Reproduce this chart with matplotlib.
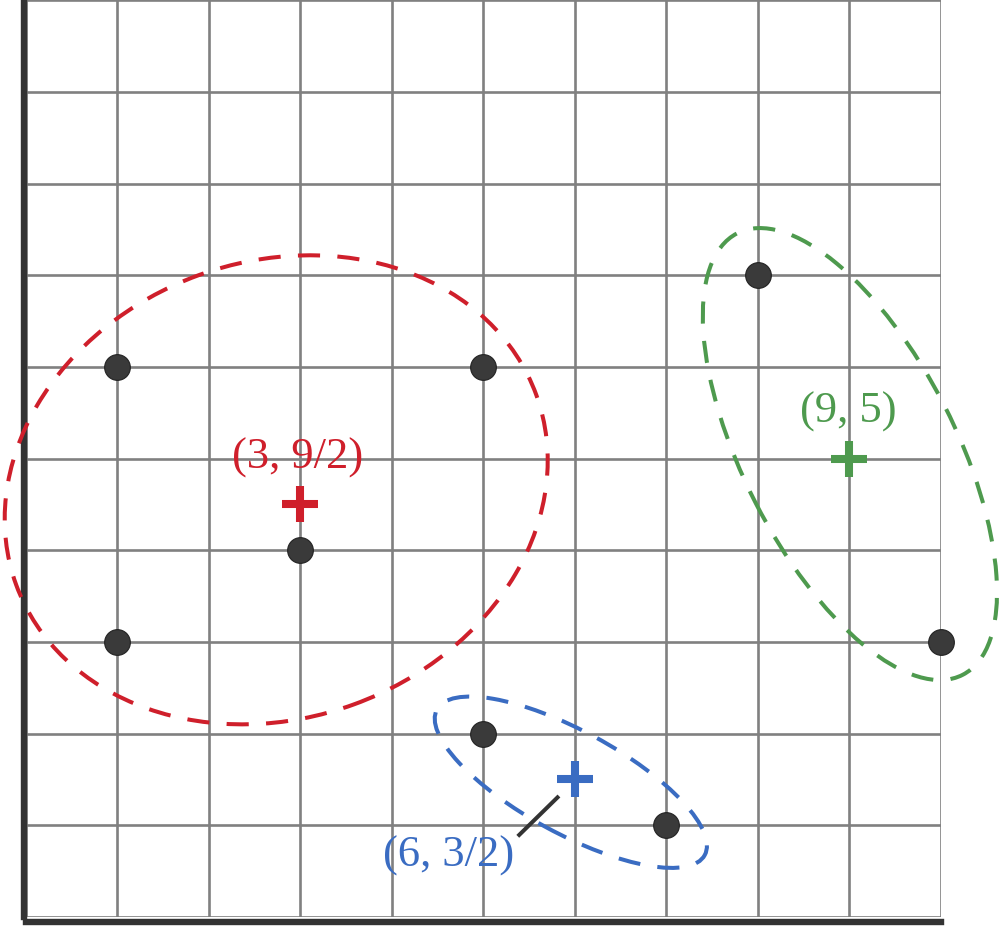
import matplotlib
matplotlib.use("Agg")
import matplotlib.pyplot as plt
from matplotlib.patches import Ellipse

# ---- data ----
points_x = [1, 5, 3, 1, 5, 7, 8, 10]
points_y = [6, 6, 4, 3, 2, 1, 7, 3]

cluster_names = ["red", "blue", "green"]
cluster_colors = ["#cf1f2b", "#3a6cc2", "#4e9a4e"]
centroid_x = [3, 6, 9]
centroid_y = [4.5, 1.5, 5]
centroid_labels = ["(3, 9/2)", "(6, 3/2)", "(9, 5)"]
label_x = [2.97, 4.62, 8.99]
label_y = [4.89, 0.55, 5.39]

ell_cx = [2.74, 5.96, 9.01]
ell_cy = [4.66, 1.47, 5.05]
ell_w = [6.05, 3.33, 5.41]
ell_h = [4.98, 1.12, 2.32]
ell_angle = [20, -28.5, -62.9]

leader_x = [5.38, 5.83]
leader_y = [0.88, 1.32]

grid_ticks = list(range(0, 11))

# ---- figure ----
fig = plt.figure(figsize=(10, 9.26), dpi=100)
ax = fig.add_axes([25.5 / 1000, 9 / 926, 915 / 1000, 916.7 / 926])
ax.set_xlim(0, 10)
ax.set_ylim(0, 10)
ax.set_xticks(grid_ticks)
ax.set_yticks(grid_ticks)
ax.tick_params(length=0, labelbottom=False, labelleft=False)
ax.grid(True, color="#808080", linewidth=1.9, zorder=0)
ax.set_axisbelow(True)
for ln in ax.get_xgridlines() + ax.get_ygridlines():
    ln.set_clip_on(False)

for s in ["top", "right"]:
    ax.spines[s].set_visible(False)
for s in ["left", "bottom"]:
    ax.spines[s].set_color("#333333")
    ax.spines[s].set_linewidth(4.6)
ax.spines["bottom"].set_position(("outward", 3.4))
ax.spines["left"].set_position(("outward", 1.0))

# ellipses
for cx, cy, w, h, a, c in zip(ell_cx, ell_cy, ell_w, ell_h, ell_angle, cluster_colors):
    e = Ellipse((cx, cy), w, h, angle=a, fill=False, edgecolor=c,
                linewidth=2.9, linestyle=(0, (5.5, 4.3)), zorder=3, clip_on=False)
    ax.add_patch(e)

# leader line
ax.plot(leader_x, leader_y, color="#333333", linewidth=2.9, zorder=4,
        solid_capstyle="butt")

# points
ax.plot(points_x, points_y, linestyle="none", marker="o", markersize=18.5,
        markerfacecolor="#3a3a3a", markeredgecolor="#222222", markeredgewidth=0.8,
        zorder=5, clip_on=False)

# centroids
for x, y, c in zip(centroid_x, centroid_y, cluster_colors):
    ax.plot([x], [y], linestyle="none", marker="+", markersize=26.5,
            markeredgewidth=5.8, color=c, zorder=6, clip_on=False)

# labels
for x, y, t, c in zip(label_x, label_y, centroid_labels, cluster_colors):
    ax.text(x, y, t, color=c, fontsize=32, family=["Liberation Serif", "DejaVu Serif"],
            ha="center", va="baseline", zorder=7)

fig.savefig("out.png", dpi=100)
